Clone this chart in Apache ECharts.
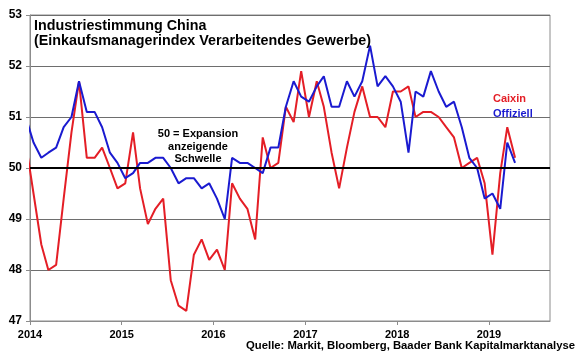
<!DOCTYPE html>
<html><head><meta charset="utf-8">
<script src="https://cdn.jsdelivr.net/npm/echarts@6/dist/echarts.min.js"></script>
<style>html,body{margin:0;padding:0;background:#fff}#c{width:580px;height:359px}</style>
</head><body><div id="c"></div>
<script>
// monthly data points (plotted mid-month)
const months = [
  '2013-12',
  '2014-01','2014-02','2014-03','2014-04','2014-05','2014-06','2014-07','2014-08','2014-09','2014-10','2014-11','2014-12',
  '2015-01','2015-02','2015-03','2015-04','2015-05','2015-06','2015-07','2015-08','2015-09','2015-10','2015-11','2015-12',
  '2016-01','2016-02','2016-03','2016-04','2016-05','2016-06','2016-07','2016-08','2016-09','2016-10','2016-11','2016-12',
  '2017-01','2017-02','2017-03','2017-04','2017-05','2017-06','2017-07','2017-08','2017-09','2017-10','2017-11','2017-12',
  '2018-01','2018-02','2018-03','2018-04','2018-05','2018-06','2018-07','2018-08','2018-09','2018-10','2018-11','2018-12',
  '2019-01','2019-02','2019-03','2019-04'
];
const caixin = [
  50.5,
  49.5,48.5,48.0,48.1,49.4,50.7,51.7,50.2,50.2,50.4,50.0,49.6,
  49.7,50.7,49.6,48.9,49.2,49.4,47.8,47.3,47.2,48.3,48.6,48.2,
  48.4,48.0,49.7,49.4,49.2,48.6,50.6,50.0,50.1,51.2,50.9,51.9,
  51.0,51.7,51.2,50.3,49.6,50.4,51.1,51.6,51.0,51.0,50.8,51.5,
  51.5,51.6,51.0,51.1,51.1,51.0,50.8,50.6,50.0,50.1,50.2,49.7,
  48.3,49.9,50.8,50.2
];
const offiziell = [
  51.0,
  50.5,50.2,50.3,50.4,50.8,51.0,51.7,51.1,51.1,50.8,50.3,50.1,
  49.8,49.9,50.1,50.1,50.2,50.2,50.0,49.7,49.8,49.8,49.6,49.7,
  49.4,49.0,50.2,50.1,50.1,50.0,49.9,50.4,50.4,51.2,51.7,51.4,
  51.3,51.6,51.8,51.2,51.2,51.7,51.4,51.7,52.4,51.6,51.8,51.6,
  51.3,50.3,51.5,51.4,51.9,51.5,51.2,51.3,50.8,50.2,50.0,49.4,
  49.5,49.2,50.5,50.1
];
const seriesNames = ['Caixin','Offiziell'];
const threshold = 50;
const xStart = '2014-01-01';
const xEnd = '2019-09-01';
const yMin = 47, yMax = 53, yStep = 1;
const titleText = 'Industriestimmung China\n(Einkaufsmanagerindex Verarbeitendes Gewerbe)';
const noteText = '50 = Expansion\nanzeigende\nSchwelle';
const sourceText = 'Quelle: Markit, Bloomberg, Baader Bank Kapitalmarktanalyse';

const RED = '#e41e26', BLUE = '#1a1ad0';
const FONT = '"Liberation Sans", Arial, sans-serif';
const toPairs = vals => vals.map((v,i) => [months[i] + '-15', v]);

const chart = echarts.init(document.getElementById('c'), null, {renderer:'canvas'});
chart.setOption({
  animation: false,
  backgroundColor: '#fff',
  textStyle: {fontFamily: FONT},
  grid: {left: 30, right: 30, top: 15, bottom: 38, show: true, borderColor: '#8c8c8c', borderWidth: 1, backgroundColor: 'transparent'},
  title: {
    text: titleText, left: 29, top: 13, padding: 5,
    textStyle: {fontFamily: FONT, fontSize: 14.3, fontWeight: 'bold', color: '#000', lineHeight: 15.5}
  },
  legend: {
    orient: 'vertical', left: 483, top: 88, itemWidth: 0, itemHeight: 0, itemGap: 4,
    icon: 'none', selectedMode: false,
    data: [
      {name: seriesNames[0], textStyle: {color: RED}},
      {name: seriesNames[1], textStyle: {color: BLUE}}
    ],
    textStyle: {fontFamily: FONT, fontSize: 11, fontWeight: 'bold'}
  },
  graphic: [
    {type: 'text', position: [198, 128], style: {text: noteText, fontFamily: FONT, fontSize: 11, fontWeight: 'bold', fill: '#000', textAlign: 'center', lineHeight: 12.5}},
    {type: 'text', position: [575, 346], style: {text: sourceText, fontFamily: FONT, fontSize: 11.3, fontWeight: 'bold', fill: '#000', textAlign: 'right', textVerticalAlign: 'middle'}}
  ],
  xAxis: {
    type: 'time', min: xStart, max: xEnd,
    minInterval: 365*24*3600*1000, maxInterval: 366*24*3600*1000,
    axisLine: {show: true, lineStyle: {color: '#8c8c8c', width: 1}},
    axisTick: {show: true, length: 4, lineStyle: {color: '#8c8c8c'}},
    axisLabel: {formatter: '{yyyy}', margin: 8, fontFamily: FONT, fontSize: 11, fontWeight: 'bold', color: '#000', showMinLabel: true},
    splitLine: {show: false}
  },
  yAxis: {
    type: 'value', min: yMin, max: yMax, interval: yStep,
    axisLine: {show: true, lineStyle: {color: '#8c8c8c', width: 1}},
    axisTick: {show: true, length: 4, lineStyle: {color: '#8c8c8c'}},
    axisLabel: {margin: 8, fontFamily: FONT, fontSize: 12, fontWeight: 'bold', color: '#000'},
    splitLine: {show: true, lineStyle: {color: '#6e6e6e', width: 1}}
  },
  series: [
    {name: seriesNames[0], type: 'line', data: toPairs(caixin), showSymbol: false, symbol: 'none',
     lineStyle: {color: RED, width: 2}, itemStyle: {color: RED}, clip: true, z: 3},
    {name: seriesNames[1], type: 'line', data: toPairs(offiziell), showSymbol: false, symbol: 'none',
     lineStyle: {color: BLUE, width: 2}, itemStyle: {color: BLUE}, clip: true, z: 4,
     markLine: {silent: true, symbol: 'none', label: {show: false}, lineStyle: {color: '#000', width: 2, type: 'solid'},
       data: [{yAxis: threshold}]}}
  ]
});
</script></body></html>
